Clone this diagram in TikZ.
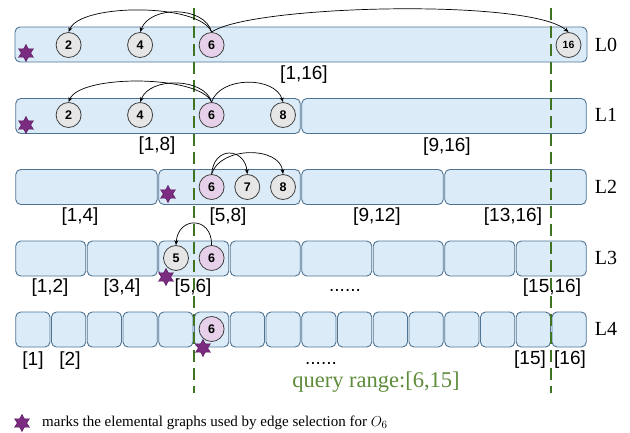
\documentclass[tikz,border=0pt]{standalone}
\usepackage{fontspec}
\setmainfont{Liberation Serif}
\setsansfont{Liberation Sans}
\usetikzlibrary{shapes.geometric,arrows.meta}
\definecolor{boxfill}{HTML}{DBECF8}
\definecolor{boxline}{HTML}{4F7392}
\definecolor{circgray}{HTML}{E6E6E6}
\definecolor{circpink}{HTML}{E6D0EA}
\definecolor{starpurple}{HTML}{7B2C80}
\definecolor{stardark}{HTML}{5A1A60}
\definecolor{qgreen}{HTML}{3F7420}
\definecolor{qtext}{HTML}{5E8C3A}
\tikzset{
  seg/.style={draw=boxline, fill=boxfill, rounded corners=5pt, line width=0.9pt,
    minimum height=35pt, inner sep=0pt, anchor=center},
  gnode/.style={circle, draw=black!75, fill=circgray, line width=0.8pt, minimum size=25pt,
    inner sep=0pt, font=\sffamily\bfseries\fontsize{12.5}{12.5}\selectfont},
  pnode/.style={gnode, fill=circpink},
  mstar/.style={star, star points=6, star point ratio=1.8, fill=starpurple, draw=stardark,
    line width=0.5pt, minimum size=17pt, inner sep=0pt},
  rlab/.style={font=\sffamily\fontsize{19}{19}\selectfont, inner sep=0pt},
  llab/.style={font=\fontsize{20}{20}\selectfont, inner sep=0pt},
  arr/.style={-{Stealth[length=5pt,width=4pt]}, line width=0.7pt, black},
  qline/.style={draw=qgreen, line width=2pt, dash pattern=on 12pt off 6pt}
}
\begin{document}
\begin{tikzpicture}[x=1pt,y=-1pt]
\useasboundingbox (0,0) rectangle (630,432);
\def\w{35.75}
% ---------- boxes ----------
% L0
\node[seg, minimum width=572pt] (b0) at (301,44.5) {};
% L1
\node[seg, minimum width=284.5pt] (b1a) at ({15+4*\w},116) {};
\node[seg, minimum width=284.5pt] (b1b) at ({15+12*\w},116) {};
% L2
\foreach \i/\n in {0/a,1/b,2/c,3/d}{
  \node[seg, minimum width=141.5pt] (b2\n) at ({15+(4*\i+2)*\w},187) {};
}
% L3
\foreach \i in {0,...,7}{
  \node[seg, minimum width=70pt] (b3-\i) at ({15+(2*\i+1)*\w},258.5) {};
}
% L4
\foreach \i in {0,...,15}{
  \node[seg, minimum width=34.25pt] (b4-\i) at ({15+(\i+0.5)*\w},329.5) {};
}
% ---------- query range lines ----------
\coordinate (qa1) at (194,8);
\coordinate (qa2) at (194,393);
\coordinate (qb1) at (551,8);
\coordinate (qb2) at (551,393);
\draw[qline] (qa1) -- (qa2);
\draw[qline] (qb1) -- (qb2);
% ---------- circles ----------
% L0
\node[gnode] (a2) at (68.6,45) {2};
\node[gnode] (a4) at (140.1,45) {4};
\node[pnode] (a6) at (211.6,45) {6};
\node[gnode, font=\sffamily\bfseries\fontsize{10.5}{10.5}\selectfont] (a16) at (568.5,45) {16};
% L1
\node[gnode] (c2) at (68.6,115) {2};
\node[gnode] (c4) at (140.1,115) {4};
\node[pnode] (c6) at (211.6,115) {6};
\node[gnode] (c8) at (283,115) {8};
% L2
\node[pnode] (d6) at (211.6,187) {6};
\node[gnode] (d7) at (247.3,187) {7};
\node[gnode] (d8) at (283,187) {8};
% L3
\node[gnode] (e5) at (176,258) {5};
\node[pnode] (e6) at (211.6,258) {6};
% L4
\node[pnode] (f6) at (211.6,329) {6};
% ---------- arrows ----------
\draw[arr] (a6.north) .. controls (200,3) and (80,3) .. (a2.north);
\draw[arr] (a6.north) .. controls (205,6) and (150,5) .. (a4.north);
\draw[arr] (a6.north) .. controls (250,5) and (530,-2) .. (a16.north);
\draw[arr] (c6.north) .. controls (200,75) and (80,74) .. (c2.north);
\draw[arr] (c6.north) .. controls (205,78) and (150,76) .. (c4.north);
\draw[arr] (c6.north) .. controls (220,76) and (275,76) .. (c8.north);
\draw[arr] (d6.north) .. controls (214,145) and (245,148) .. (d7.north);
\draw[arr] (d6.north) .. controls (220,146) and (280,146) .. (d8.north);
\draw[arr] (e6.north) .. controls (212,216) and (178,216) .. (e5.north);
% ---------- stars ----------
\node[mstar] (s0) at (26,53) {};
\node[mstar] (s1) at (26,125) {};
\node[mstar] (s2) at (168,194) {};
\node[mstar] (s3) at (166,277) {};
\node[mstar] (s4) at (203,348) {};
% ---------- range labels ----------
\node[rlab] (r0) at (304,75) {[1,16]};
\node[rlab] (r1a) at (157,145.5) {[1,8]};
\node[rlab] (r1b) at (447,147) {[9,16]};
\node[rlab] (r2a) at (80,217) {[1,4]};
\node[rlab] (r2b) at (228,217) {[5,8]};
\node[rlab] (r2c) at (377,217) {[9,12]};
\node[rlab] (r2d) at (513,217) {[13,16]};
\node[rlab] (r3a) at (50,288) {[1,2]};
\node[rlab] (r3b) at (122,288) {[3,4]};
\node[rlab] (r3c) at (193,288) {[5,6]};
\node[rlab, anchor=base] (r3d) at (345,291) {......};
\node[rlab] (r3e) at (552,288) {[15,16]};
\node[rlab] (r4a) at (33,361) {[1]};
\node[rlab] (r4b) at (70,361) {[2]};
\node[rlab, anchor=base] (r4c) at (321,364) {......};
\node[rlab] (r4d) at (530,360) {[15]};
\node[rlab] (r4e) at (570,360) {[16]};
% ---------- level labels ----------
\node[llab] (l0) at (606,45) {L0};
\node[llab] (l1) at (606,115) {L1};
\node[llab] (l2) at (606,187) {L2};
\node[llab] (l3) at (606,258) {L3};
\node[llab] (l4) at (606,329) {L4};
% ---------- query text ----------
\node[font=\fontsize{22.5}{22.5}\selectfont, text=qtext, inner sep=0pt] (qt) at (376,382) {query range:[6,15]};
% ---------- legend ----------
\node[mstar] (ls) at (22,423) {};
\node[font=\fontsize{15}{15}\selectfont, anchor=west, inner sep=0pt] (lt) at (42,423) {marks the elemental graphs used by edge selection for $O_6$};
\end{tikzpicture}
\end{document}
